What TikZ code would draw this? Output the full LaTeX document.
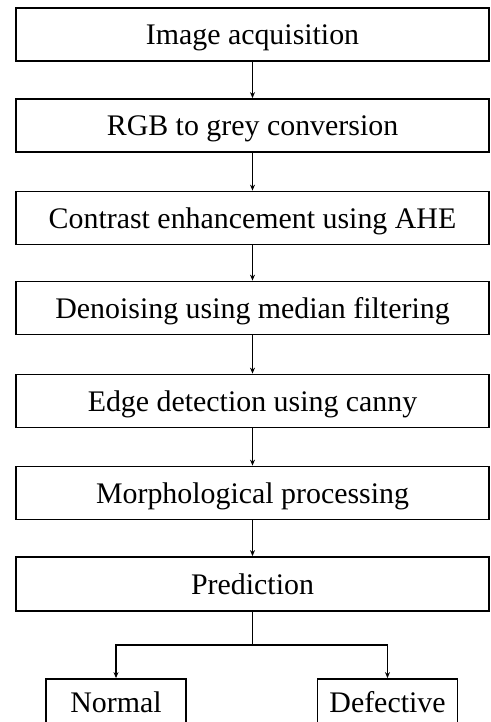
\documentclass[tikz,border=0pt]{standalone}
\usepackage{fontspec}
\setmainfont{Liberation Serif}
\usetikzlibrary{arrows.meta}
\begin{document}
\begin{tikzpicture}[x=1bp,y=-1bp,
                stage node/.style={draw,line width=1.8bp,minimum width=473bp,minimum height=53bp,inner sep=0pt,text height=24bp,text depth=3bp,font=\fontsize{30}{32}\selectfont},
                out node/.style={stage node,minimum width=140bp,minimum height=46bp},
                flow/.style={line width=1.6bp,-{Stealth[length=6bp,width=5bp]}},
                ]
                \useasboundingbox (0,0) rectangle (491,722);
                \node[stage node] (1) at (252.5,34.5) {Image acquisition};
                \node[stage node] (2) at (252.5,125.5) {RGB to grey conversion};
                \node[stage node] (3) at (252.5,218) {Contrast enhancement using AHE};
                \node[stage node] (4) at (252.5,308) {Denoising using median filtering};
                \node[stage node] (5) at (252.5,401) {Edge detection using canny};
                \node[stage node] (6) at (252.5,493) {Morphological processing};
                \node[stage node, minimum height=54bp] (7) at (252.5,584) {Prediction};
                \node[out node] (8) at (116,702) {Normal};
                \node[out node] (9) at (387.5,702) {Defective};
                \coordinate (split) at (252.5,645);
                
                \draw[flow] (1) -- (2);
                \draw[flow] (2) -- (3);
                \draw[flow] (3) -- (4);
                \draw[flow] (4) -- (5);
                \draw[flow] (5) -- (6);
                \draw[flow] (6) -- (7);
                \draw[line width=1.6bp] (7) -- (split);
                \draw[flow] (split) -| (8);
                \draw[flow] (split) -| (9);
            \end{tikzpicture}
\end{document}
